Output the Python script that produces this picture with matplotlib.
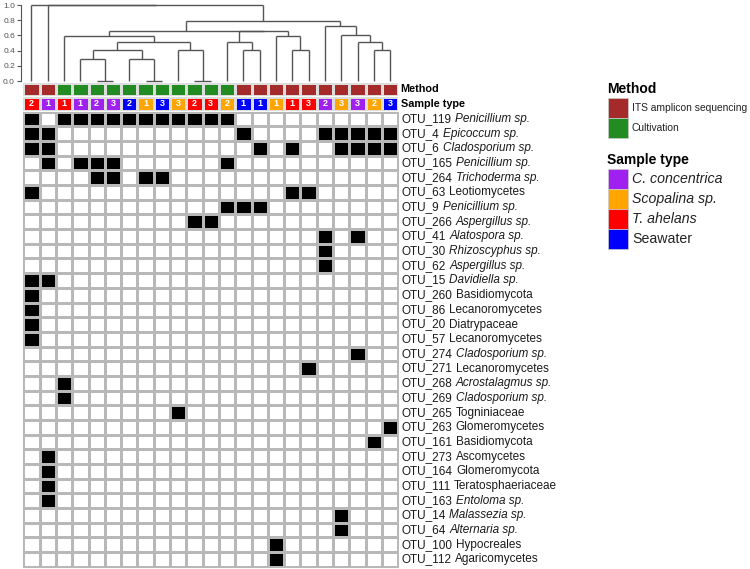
import matplotlib.pyplot as plt
import numpy as np
from matplotlib.colors import ListedColormap
from matplotlib.patches import Rectangle

plt.rcParams["font.family"] = ["Liberation Sans", "DejaVu Sans"]

W, H = 750, 569

# samples (columns, in dendrogram order)
sample_method = ["ITS", "ITS"] + ["Cult"] * 11 + ["ITS"] * 10
sample_host = [
    "T", "C", "T", "C", "C", "C", "W", "S", "W", "S", "T", "T",
    "S", "W", "W", "S", "T", "T", "C", "S", "C", "S", "W",
]
sample_rep = [2, 1, 1, 1, 2, 3, 2, 1, 3, 3, 2, 3, 2, 1, 1, 1, 1, 3, 2, 3, 3, 2, 3]

method_names = ["ITS amplicon sequencing", "Cultivation"]
method_keys = ["ITS", "Cult"]
method_colors = ["#A52A2A", "#228B22"]
host_names = ["C. concentrica", "Scopalina sp.", "T. ahelans", "Seawater"]
host_keys = ["C", "S", "T", "W"]
host_colors = ["#A020F0", "#FFA500", "#FF0000", "#0000FF"]
host_italic = [True, True, True, False]

# OTUs (rows)
otu_ids = [
    "OTU_119", "OTU_4", "OTU_6", "OTU_165", "OTU_264", "OTU_63", "OTU_9",
    "OTU_266", "OTU_41", "OTU_30", "OTU_62", "OTU_15", "OTU_260", "OTU_86",
    "OTU_20", "OTU_57", "OTU_274", "OTU_271", "OTU_268", "OTU_269", "OTU_265",
    "OTU_263", "OTU_161", "OTU_273", "OTU_164", "OTU_111", "OTU_163", "OTU_14",
    "OTU_64", "OTU_100", "OTU_112",
]
otu_taxa = [
    "Penicillium sp.", "Epicoccum sp.", "Cladosporium sp.", "Penicillium sp.",
    "Trichoderma sp.", "Leotiomycetes", "Penicillium sp.", "Aspergillus sp.",
    "Alatospora sp.", "Rhizoscyphus sp.", "Aspergillus sp.", "Davidiella sp.",
    "Basidiomycota", "Lecanoromycetes", "Diatrypaceae", "Lecanoromycetes",
    "Cladosporium sp.", "Lecanoromycetes", "Acrostalagmus sp.", "Cladosporium sp.",
    "Togniniaceae", "Glomeromycetes", "Basidiomycota", "Ascomycetes",
    "Glomeromycota", "Teratosphaeriaceae", "Entoloma sp.", "Malassezia sp.",
    "Alternaria sp.", "Hypocreales", "Agaricomycetes",
]
# columns where each OTU is present
present_cols = [
    [0, 2, 3, 4, 5, 6, 7, 8, 9, 10, 11, 12],
    [0, 1, 13, 18, 19, 20, 21, 22],
    [0, 1, 14, 16, 19, 20, 21, 22],
    [1, 3, 4, 5, 12],
    [4, 5, 7, 8],
    [0, 16, 17],
    [12, 13, 14],
    [10, 11],
    [18, 20],
    [18],
    [18],
    [0, 1],
    [0], [0], [0], [0],
    [20],
    [17],
    [2], [2],
    [9],
    [22],
    [21],
    [1], [1], [1], [1],
    [19], [19],
    [15], [15],
]

# dendrogram merges (scipy-like: leaves 0..22, new nodes from 23)
merge_left = [4, 7, 10, 3, 6, 26, 9, 28, 2, 13, 12, 16, 15, 33, 31, 21, 20, 19, 18, 37, 1, 0]
merge_right = [5, 8, 11, 23, 24, 27, 25, 29, 30, 14, 32, 17, 34, 35, 36, 22, 38, 39, 40, 41, 42, 43]
merge_height = [0.0, 0.0, 0.0, 0.29, 0.29, 0.41, 0.41, 0.51, 0.59, 0.41, 0.51, 0.41,
                0.59, 0.66, 0.66, 0.41, 0.51, 0.605, 0.73, 0.79, 1.0, 1.0]

n_cols = len(sample_rep)
n_rows = len(otu_ids)


def px_box(x0, y0, x1, y1):
    return [x0 / W, 1 - y1 / H, (x1 - x0) / W, (y1 - y0) / H]


fig = plt.figure(figsize=(W / 100, H / 100), dpi=100)

hx0, hx1 = 23.3, 398.3

# dendrogram
axd = fig.add_axes(px_box(hx0, 5, hx1, 81))
node_x = [i + 0.5 for i in range(n_cols)]
node_h = [0.0] * n_cols
line_kw = dict(color="#555555", lw=1.0, clip_on=False, solid_capstyle="butt")
for a, b, h in zip(merge_left, merge_right, merge_height):
    xa, xb = node_x[a], node_x[b]
    axd.plot([xa, xa], [node_h[a], h], **line_kw)
    axd.plot([xb, xb], [node_h[b], h], **line_kw)
    axd.plot([xa, xb], [h, h], **line_kw)
    node_x.append((xa + xb) / 2)
    node_h.append(h)
axd.set_xlim(0, n_cols)
axd.set_ylim(0, 1)
axd.set_yticks(np.arange(0, 1.01, 0.2))
axd.set_yticklabels([f"{v:.1f}" for v in np.arange(0, 1.01, 0.2)])
axd.set_xticks([])
for s in ["top", "right", "bottom"]:
    axd.spines[s].set_visible(False)
axd.spines["left"].set_position(("outward", 2))
axd.spines["left"].set_color("#555555")
axd.tick_params(axis="y", length=3, width=0.8, color="#555555", labelsize=6,
                labelcolor="#555555", pad=1)
axd.patch.set_alpha(0)

# method annotation row
axm = fig.add_axes(px_box(hx0, 82.6, hx1, 96.4))
m_idx = np.array([[method_keys.index(m) for m in sample_method]])
axm.pcolormesh(m_idx, cmap=ListedColormap(method_colors), vmin=0, vmax=1,
               edgecolors="#dddddd", linewidth=0.8)
axm.set_xlim(0, n_cols)
axm.set_axis_off()

# sample type annotation row
axs = fig.add_axes(px_box(hx0, 96.6, hx1, 110.8))
s_idx = np.array([[host_keys.index(h) for h in sample_host]])
axs.pcolormesh(s_idx, cmap=ListedColormap(host_colors), vmin=0, vmax=3,
               edgecolors="#dddddd", linewidth=0.8)
for i, r in enumerate(sample_rep):
    axs.text(i + 0.5, 0.5, str(r), color="white", fontsize=6.5, fontweight="bold",
             ha="center", va="center")
axs.set_xlim(0, n_cols)
axs.set_axis_off()

# presence / absence heatmap
axh = fig.add_axes(px_box(hx0, 111.7, hx1, 566.7))
mat = np.zeros((n_rows, n_cols))
for r, cols in enumerate(present_cols):
    mat[r, cols] = 1
axh.pcolormesh(mat, cmap=ListedColormap(["white", "black"]), vmin=0, vmax=1,
               edgecolors="#b8b8b8", linewidth=0.8)
axh.set_xlim(0, n_cols)
axh.set_ylim(n_rows, 0)
axh.set_xticks([])
axh.set_yticks([])
for s in axh.spines.values():
    s.set_color("#b8b8b8")
    s.set_linewidth(0.8)

# row labels
lab_x = n_cols + 0.2
for r, (oid, tax) in enumerate(zip(otu_ids, otu_taxa)):
    t = axh.text(lab_x, r + 0.5, oid, fontsize=8.5, color="#1a1a1a",
                 ha="left", va="center", clip_on=False)
    style = "italic" if tax.endswith("sp.") else "normal"
    axh.annotate(tax, xy=(1, 0), xycoords=t, xytext=(2.4, 0),
                 textcoords="offset points", fontsize=8.5, color="#1a1a1a",
                 style=style, ha="left", va="bottom")
axm.text(n_cols + 0.15, 0.5, "Method", fontsize=7.8, fontweight="bold",
         ha="left", va="center", clip_on=False)
axs.text(n_cols + 0.15, 0.5, "Sample type", fontsize=7.8, fontweight="bold",
         ha="left", va="center", clip_on=False)

# legend
axl = fig.add_axes([0, 0, 1, 1])
axl.set_xlim(0, W)
axl.set_ylim(H, 0)
axl.set_axis_off()
axl.patch.set_alpha(0)
axl.text(607, 89, "Method", fontsize=10, fontweight="bold", ha="left", va="center")
for i, (name, col) in enumerate(zip(method_names, method_colors)):
    y0 = 97.7 + i * 20.2
    axl.add_patch(Rectangle((608, y0), 20, 20.2, facecolor=col, edgecolor="#cccccc", lw=0.5))
    axl.text(632, y0 + 10, name, fontsize=7.4, ha="left", va="center", color="#222222")
axl.text(607, 160, "Sample type", fontsize=10, fontweight="bold", ha="left", va="center")
for i, (name, col, it) in enumerate(zip(host_names, host_colors, host_italic)):
    y0 = 169 + i * 20
    axl.add_patch(Rectangle((608, y0), 20, 20, facecolor=col, edgecolor="#cccccc", lw=0.5))
    axl.text(632.5, y0 + 10, name, fontsize=10.2, ha="left", va="center",
             style="italic" if it else "normal", color="#222222")

fig.savefig("out.png", dpi=100)
